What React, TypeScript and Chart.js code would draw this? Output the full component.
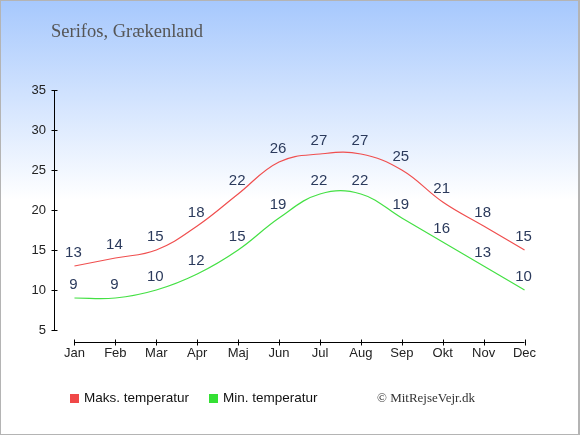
import React, { useEffect, useRef } from "react";
import Chart from "chart.js/auto";
import type { Plugin } from "chart.js";

const MONTHS = ["Jan", "Feb", "Mar", "Apr", "Maj", "Jun", "Jul", "Aug", "Sep", "Okt", "Nov", "Dec"];
const MAX_TEMP = [13, 14, 15, 18, 22, 26, 27, 27, 25, 21, 18, 15];
const MIN_TEMP = [9, 9, 10, 12, 15, 19, 22, 22, 19, 16, 13, 10];

const RED = "#f04f4f";
const GREEN = "#44e044";
const LABEL = "#2b3a5c";

export default function App() {
  const canvasRef = useRef<HTMLCanvasElement | null>(null);

  useEffect(() => {
    document.body.style.margin = "0";
    const ctx = canvasRef.current?.getContext("2d");
    if (!ctx) return;

    // axis lines with small crossing tick marks
    const axes: Plugin<"line"> = {
      id: "axes",
      afterDraw(c) {
        const { ctx, chartArea } = c;
        const x = c.scales.x;
        const y = c.scales.y;
        ctx.save();
        ctx.strokeStyle = "#000";
        ctx.lineWidth = 1;
        ctx.beginPath();
        const lx = Math.round(chartArea.left) + 0.5;
        ctx.moveTo(lx, chartArea.top);
        ctx.lineTo(lx, chartArea.bottom + 1);
        y.ticks.forEach((t) => {
          const py = Math.round(y.getPixelForValue(t.value)) + 0.5;
          ctx.moveTo(lx - 3, py);
          ctx.lineTo(lx + 3, py);
        });
        const ay = Math.round(chartArea.bottom + 12) + 0.5;
        ctx.moveTo(x.getPixelForValue(0), ay);
        ctx.lineTo(x.getPixelForValue(MONTHS.length - 1), ay);
        MONTHS.forEach((_, i) => {
          const px = Math.round(x.getPixelForValue(i)) + 0.5;
          ctx.moveTo(px, ay - 3);
          ctx.lineTo(px, ay + 3);
        });
        ctx.stroke();
        ctx.restore();
      },
    };

    // value labels above each point
    const valueLabels: Plugin<"line"> = {
      id: "valueLabels",
      afterDatasetsDraw(c) {
        const { ctx } = c;
        ctx.save();
        ctx.font = "15px 'Liberation Sans', Arial, sans-serif";
        ctx.fillStyle = LABEL;
        ctx.textAlign = "center";
        ctx.textBaseline = "middle";
        c.data.datasets.forEach((ds, di) => {
          const meta = c.getDatasetMeta(di);
          meta.data.forEach((pt, i) => {
            ctx.fillText(String(ds.data[i]), pt.x - 1, pt.y - 13);
          });
        });
        ctx.restore();
      },
    };

    const chart = new Chart(ctx, {
      type: "line",
      data: {
        labels: MONTHS,
        datasets: [
          {
            label: "Maks. temperatur",
            data: MAX_TEMP,
            borderColor: RED,
            backgroundColor: RED,
            borderWidth: 1.2,
            pointRadius: 0,
            tension: 0.4,
          },
          {
            label: "Min. temperatur",
            data: MIN_TEMP,
            borderColor: GREEN,
            backgroundColor: GREEN,
            borderWidth: 1.2,
            pointRadius: 0,
            tension: 0.4,
          },
        ],
      },
      options: {
        animation: false,
        responsive: false,
        layout: { padding: { left: 0, right: 35, top: 90, bottom: 65 } },
        scales: {
          x: {
            offset: true,
            grid: { display: false, drawTicks: false },
            border: { display: false },
            ticks: {
              color: "#222",
              padding: 16,
              font: { family: "'Liberation Sans', Arial, sans-serif", size: 13 },
            },
            afterFit: (s: any) => {
              s.height = 40;
            },
          },
          y: {
            min: 5,
            max: 35,
            grid: { display: false, drawTicks: false },
            border: { display: false },
            ticks: {
              stepSize: 5,
              color: "#222",
              padding: 8,
              font: { family: "'Liberation Sans', Arial, sans-serif", size: 13 },
            },
            afterFit: (s: any) => {
              s.width = 54;
            },
          },
        },
        plugins: {
          legend: { display: false },
          tooltip: { enabled: false },
        },
      },
      plugins: [axes, valueLabels],
    });

    return () => {
      chart.destroy();
    };
  }, []);

  const legendText: React.CSSProperties = {
    position: "absolute",
    top: 390,
    font: "13.5px 'Liberation Sans', Arial, sans-serif",
    color: "#111",
    lineHeight: "16px",
  };
  const box: React.CSSProperties = { position: "absolute", top: 394, width: 9, height: 9 };

  return (
    <div
      style={{
        position: "fixed",
        left: 0,
        top: 0,
        width: 580,
        height: 435,
        background: "linear-gradient(to bottom, #a6c8fd 0px, #ffffff 200px, #ffffff 435px)",
      }}
    >
      <canvas ref={canvasRef} width={580} height={435} style={{ position: "absolute", left: 0, top: 0 }} />
      <div
        style={{
          position: "absolute",
          left: 51,
          top: 21,
          font: "18.5px 'Liberation Serif', 'Times New Roman', serif",
          color: "#555",
          lineHeight: "20px",
        }}
      >
        Serifos, Grækenland
      </div>
      <div style={{ ...box, left: 70, background: "#f04848" }} />
      <div style={{ ...legendText, left: 84 }}>Maks. temperatur</div>
      <div style={{ ...box, left: 209, background: "#34e034" }} />
      <div style={{ ...legendText, left: 223 }}>Min. temperatur</div>
      <div
        style={{
          position: "absolute",
          left: 377,
          top: 390,
          font: "13px 'Liberation Serif', 'Times New Roman', serif",
          color: "#333",
          lineHeight: "16px",
        }}
      >
        © MitRejseVejr.dk
      </div>
      <div
        style={{
          position: "absolute",
          inset: 0,
          border: "1px solid #b4b4b4",
          borderRightWidth: 2,
          pointerEvents: "none",
        }}
      />
    </div>
  );
}
